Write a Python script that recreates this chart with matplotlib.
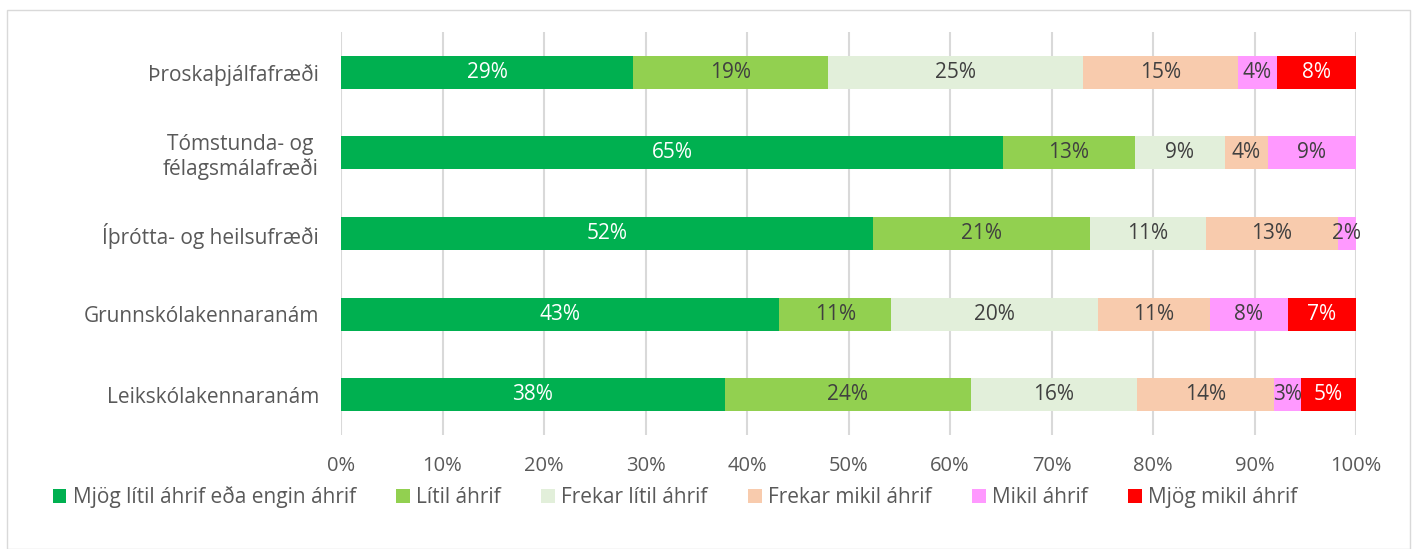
import matplotlib
matplotlib.use("Agg")
import matplotlib.pyplot as plt
import numpy as np
from matplotlib.patches import Rectangle

plt.rcParams['font.family'] = ['Open Sans', 'DejaVu Sans']

categories = ["Þroskaþjálfafræði", "Tómstunda- og \nfélagsmálafræði", "Íþrótta- og heilsufræði",
              "Grunnskólakennaranám", "Leikskólakennaranám"]
series_names = ["Mjög lítil áhrif eða engin áhrif", "Lítil áhrif", "Frekar lítil áhrif",
                "Frekar mikil áhrif", "Mikil áhrif", "Mjög mikil áhrif"]
s1 = [28.8, 65.2, 52.4, 43.2, 37.8]
s2 = [19.2, 13.0, 21.4, 11.0, 24.3]
s3 = [25.1, 8.9, 11.4, 20.4, 16.3]
s4 = [15.3, 4.2, 13.0, 11.0, 13.5]
s5 = [3.8, 8.7, 1.8, 7.7, 2.7]
s6 = [7.8, 0.0, 0.0, 6.7, 5.4]
series = [s1, s2, s3, s4, s5, s6]
colors = ["#00B050", "#92D050", "#E2EFDA", "#F8CBAD", "#FF99FF", "#FF0000"]
label_colors = ["white", "#404040", "#404040", "#404040", "#404040", "white"]

fig = plt.figure(figsize=(14.15, 5.49), dpi=100)
fig.patches.append(Rectangle((7/1415, 0), (1410-7)/1415, 1-10/549, transform=fig.transFigure,
                             fill=False, edgecolor="#d9d9d9", linewidth=1))
ax = fig.add_axes([341/1415, 1-435/549, (1356-341)/1415, (435-32)/549])

y = np.arange(len(categories))
left = np.zeros(len(categories))
for vals, c, lc, name in zip(series, colors, label_colors, series_names):
    vals = np.array(vals)
    ax.barh(y, vals, left=left, color=c, height=0.41, label=name, zorder=3)
    for yi, (l, v) in enumerate(zip(left, vals)):
        if v > 0:
            ax.text(l + v/2, yi, f"{round(v):.0f}%", ha="center", va="center",
                    color=lc, fontsize=15, zorder=4)
    left += vals

ax.set_xlim(0, 100)
ax.set_ylim(len(categories) - 0.5, -0.5)
ax.set_yticks(y)
ax.set_yticklabels(categories, fontsize=15, color="#595959")
ax.set_xticks(np.arange(0, 101, 10))
ax.set_xticklabels([f"{t}%" for t in range(0, 101, 10)], fontsize=14.5, color="#595959")
ax.tick_params(axis="y", length=0, pad=16)
ax.tick_params(axis="x", length=0, pad=15)
ax.grid(axis="x", color="#d9d9d9", linewidth=1.5, zorder=0)
for s in ax.spines.values():
    s.set_visible(False)

handles, labels = ax.get_legend_handles_labels()
fig.legend(handles, labels, loc="center left", bbox_to_anchor=(34/1415, 1-497/549), ncol=6,
           frameon=False, fontsize=15, handlelength=0.65, handleheight=0.65,
           handletextpad=0.3, columnspacing=1.95, labelcolor="#595959")

fig.savefig("out.png", dpi=100)
